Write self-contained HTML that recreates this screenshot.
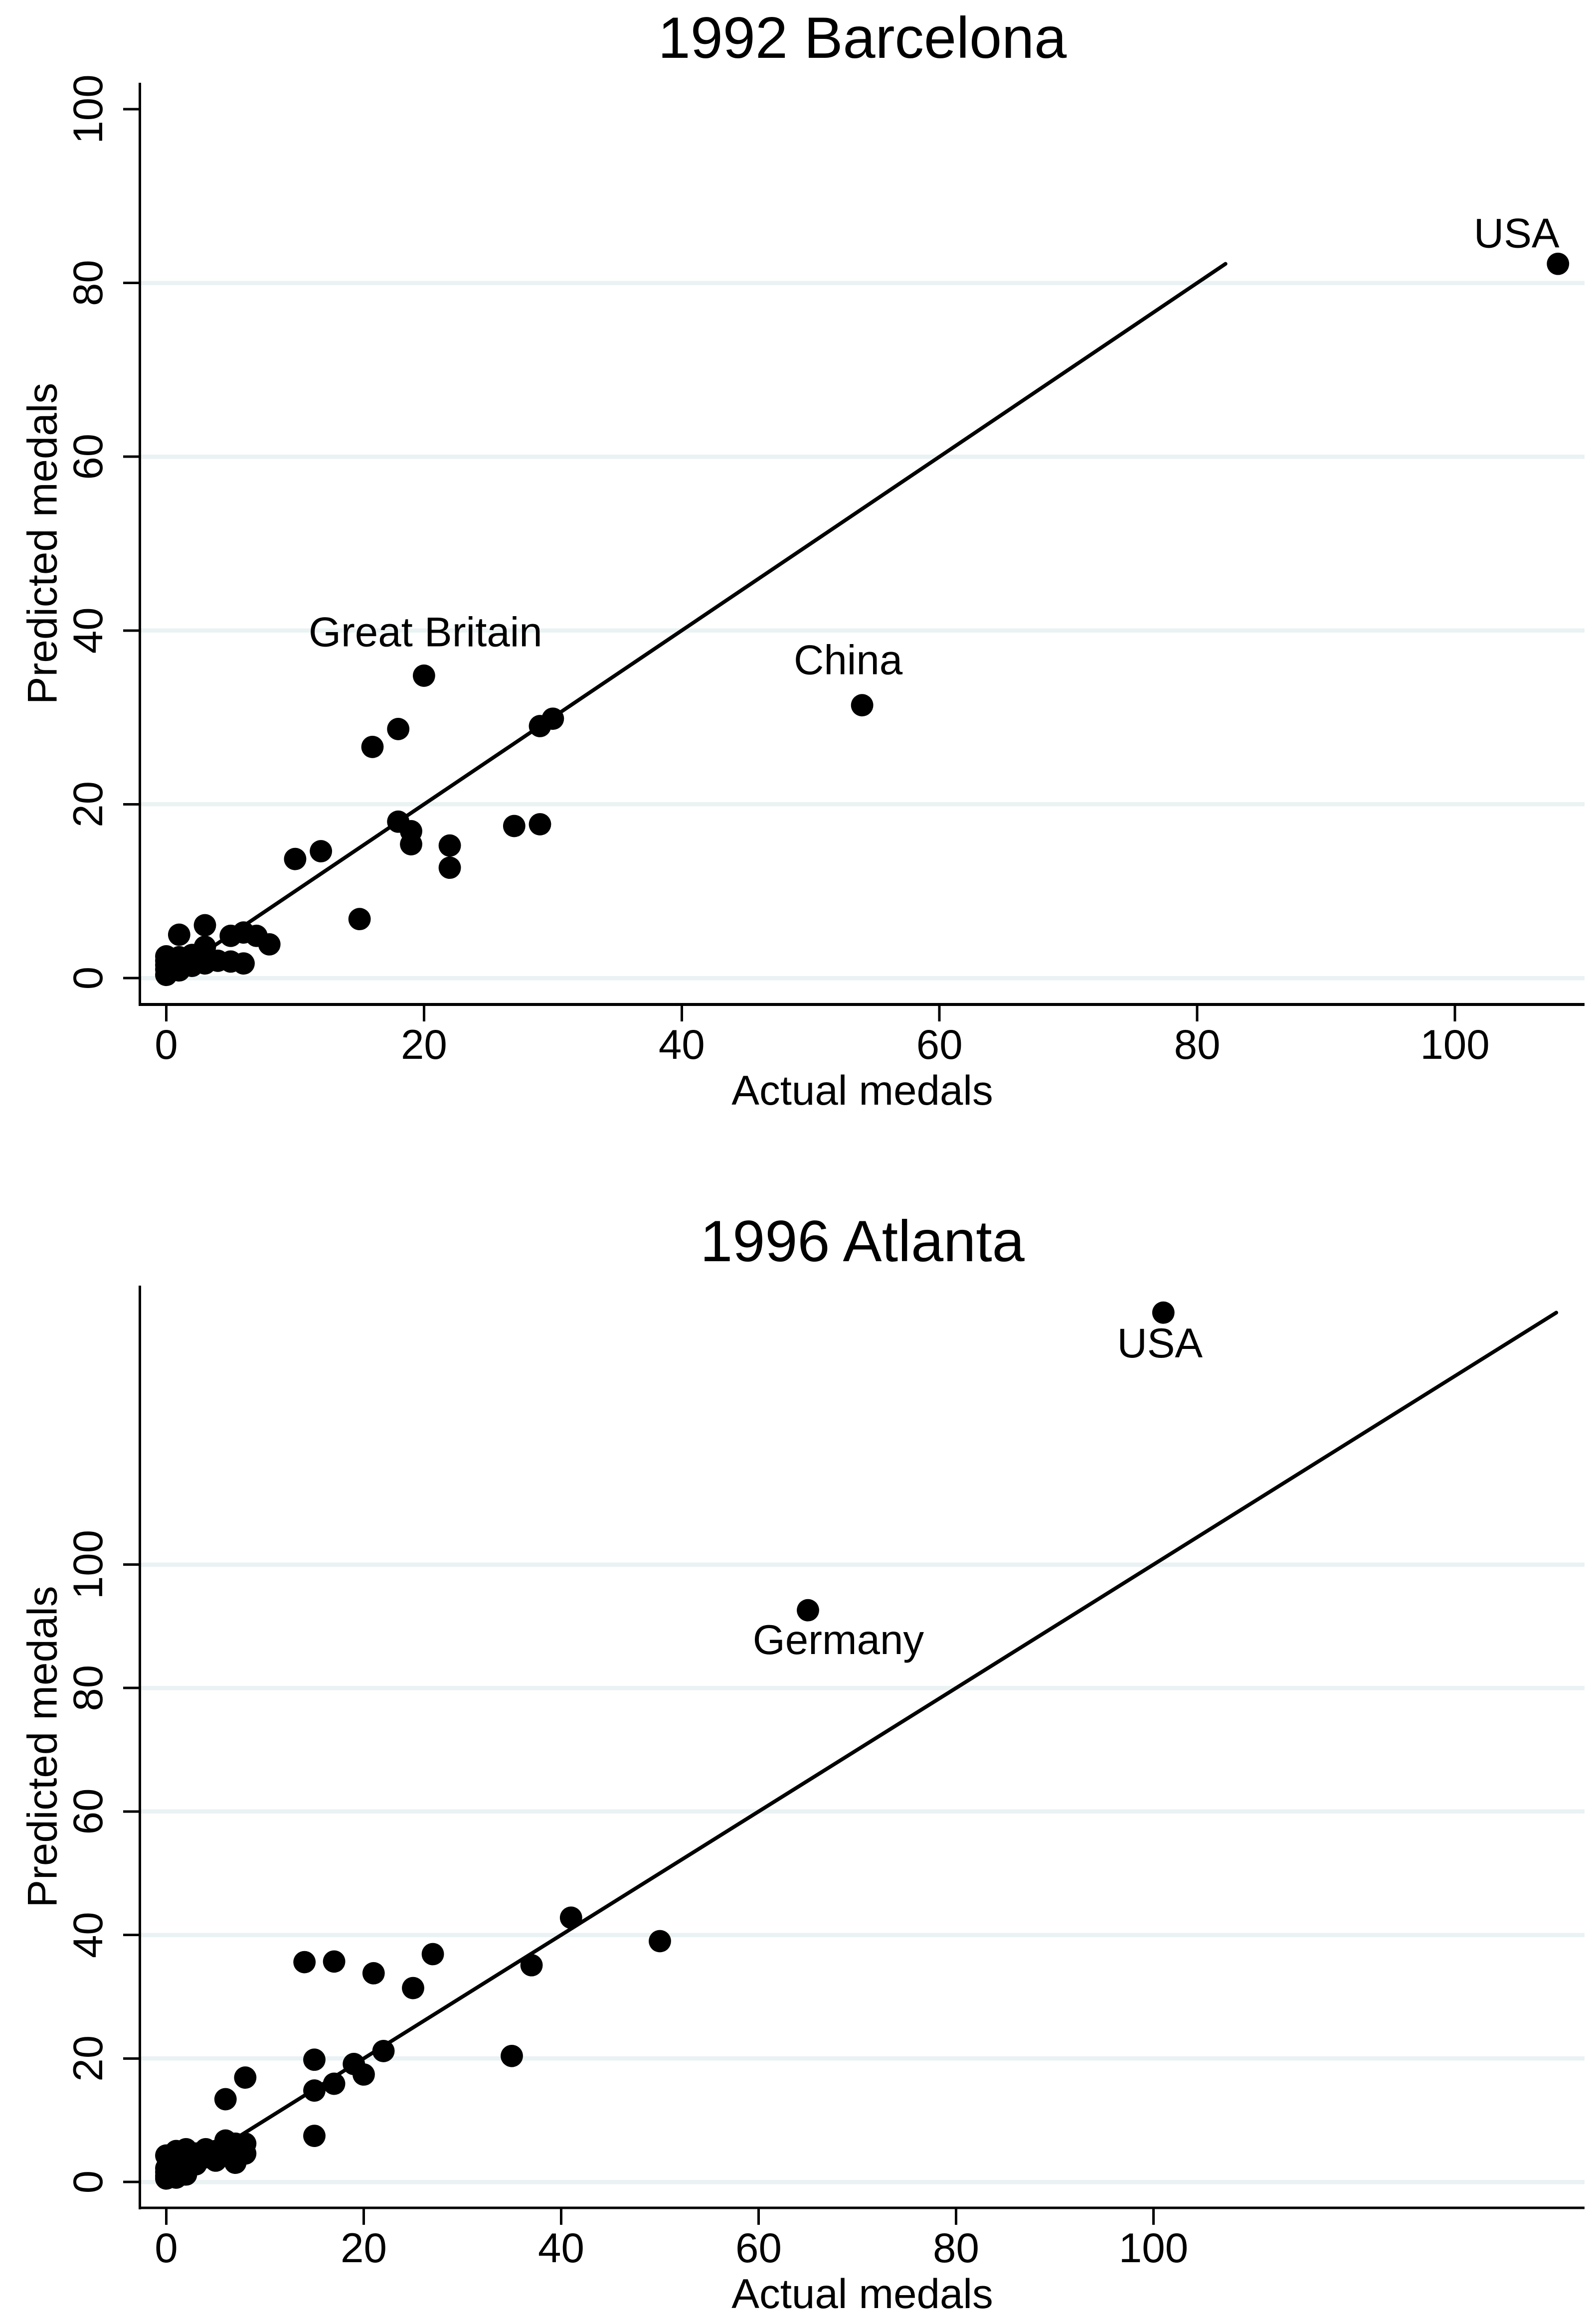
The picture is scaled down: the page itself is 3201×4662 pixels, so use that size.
<!DOCTYPE html>
<html lang="en">
<head>
<meta charset="utf-8">
<title>Actual vs predicted medals</title>
<style>
html,body{margin:0;padding:0;background:#fff;}
svg{display:block;font-family:"Liberation Sans",Arial,sans-serif;fill:#000;}
</style>
</head>
<body>
<svg id="chart" xmlns="http://www.w3.org/2000/svg" width="3201" height="4662" viewBox="0 0 3201 4662">
<rect x="0" y="0" width="3201" height="4662" fill="#ffffff"/>
</svg>
<script>
var xTickLabels = [0, 20, 40, 60, 80, 100];
var yTickLabels = [0, 20, 40, 60, 80, 100];

var actual1992 = [108,54,20,30,29,18,16,29,27,22,22,19,19,18,15,12,10,8,7,6,5,3,1,6,5,4,3,3,3,2,2,2,1,1,1,0,0,0,0,0];
var predicted1992 = [82.2,31.4,34.8,29.85,29,28.66,26.6,17.7,17.5,15.25,12.7,16.9,15.4,18,6.79,14.6,13.7,3.88,4.86,5.24,4.86,6.08,4.99,1.68,1.9,1.99,3.6,2.2,1.68,2.66,2.1,1.4,2.4,1.6,0.88,2.5,2,1.5,1,0.36];
var fitLine1992 = [0.36, 82.2];
var labelNames1992 = ["USA", "China", "Great Britain"];
var labelActual1992 = [108, 54, 20];
var labelPredicted1992 = [82.2, 31.4, 34.8];

var actual1996 = [101,65,50,41,37,35,27,25,22,21,20,19,17,17,15,15,15,14,8,6,8,8,7,7,6,6,5,5,4,4,3,3,2,2,2,2,1,1,1,1,0,0,0,0,0];
var predicted1996 = [140.8,92.6,39,42.8,35.1,20.4,36.9,31.4,21.2,33.8,17.4,19.1,35.7,15.9,19.8,14.8,7.46,35.6,16.9,13.4,6.2,4.6,6.2,3.1,6.7,5,5,3.45,5.3,4,4.6,2.85,5.3,4,2.6,1.2,5,3.6,2.2,0.7,4.28,2.2,1.6,1,0.55];
var fitLine1996 = [0.55, 140.8];
var labelNames1996 = ["USA", "Germany"];
var labelActual1996 = [101, 65];
var labelPredicted1996 = [140.8, 92.6];

var SVG_NS = "http://www.w3.org/2000/svg";
var root = document.getElementById("chart");

function make(tag, parent) {
  var el = document.createElementNS(SVG_NS, tag);
  parent.appendChild(el);
  return el;
}

function segment(parent, x1, y1, x2, y2, width, color, crisp) {
  var el = make("line", parent);
  el.setAttribute("x1", x1);
  el.setAttribute("y1", y1);
  el.setAttribute("x2", x2);
  el.setAttribute("y2", y2);
  el.setAttribute("stroke", color);
  el.setAttribute("stroke-width", width);
  if (crisp) el.setAttribute("shape-rendering", "crispEdges");
  return el;
}

function label(parent, content, x, y, size, rotated) {
  var el = make("text", parent);
  el.textContent = content;
  el.setAttribute("text-anchor", "middle");
  el.setAttribute("font-size", size);
  if (rotated) {
    el.setAttribute("transform", "translate(" + x + "," + y + ") rotate(-90)");
  } else {
    el.setAttribute("x", x);
    el.setAttribute("y", y);
  }
  return el;
}

function drawPanel(p) {
  function xScale(v) { return p.x0 + v * p.xUnit; }
  function yScale(v) { return p.y0 - v * p.yUnit; }

  var g = make("g", root);
  
  

  var title = label(g, p.title, 1729.5, p.titleBaseline, 117, false);
  
  

  yTickLabels.forEach(function (v) {
    if (yScale(v) - p.axisTop > 60) {
      var grid = segment(g, 281, yScale(v), 3178, yScale(v), 8.5, "#eaf2f3", true);
      
      
    }

    var tick = segment(g, 247, yScale(v), 281, yScale(v), 5, "#000", true);
    
    

    var text = label(g, String(v), 205, yScale(v), 83.5, true);
    
    
  });

  xTickLabels.forEach(function (v) {
    var tick = segment(g, xScale(v), p.axisY, xScale(v), p.axisY + 34, 5, "#000", true);
    
    

    var text = label(g, String(v), xScale(v), p.axisY + 109, 83.5, false);
    
    
  });

  var yAxis = segment(g, 280.5, p.axisTop, 280.5, p.axisY + 3, 5, "#000", true);
  
  

  var xAxis = segment(g, 278, p.axisY, 3178, p.axisY, p.axisWidth, "#000", true);
  
  

  var yTitle = label(g, "Predicted medals", 113.5, (p.axisTop + p.axisY) / 2, 83.5, true);
  
  

  var xTitle = label(g, "Actual medals", 1729.5, p.axisY + 201, 83.5, false);
  
  

  var fit = segment(g, xScale(p.fit[0]), yScale(p.fit[0]), xScale(p.fit[1]), yScale(p.fit[1]), 7.5, "#000", false);
  fit.setAttribute("stroke-linecap", "round");
  
  

  p.actual.forEach(function (v, i) {
    var dot = make("circle", g);
    dot.setAttribute("cx", xScale(v));
    dot.setAttribute("cy", yScale(p.predicted[i]));
    dot.setAttribute("r", 22.4);
    dot.setAttribute("fill", "#000");
    
    
  });

  p.labelNames.forEach(function (n, i) {
    var text = label(g, n, xScale(p.labelActual[i]) + p.labelDx[i], yScale(p.labelPredicted[i]) + p.labelDy[i], 83.5, false);
    
    
  });
}

drawPanel({
  name: "panel-1992-barcelona",
  title: "1992 Barcelona",
  titleBaseline: 116,
  axisTop: 166,
  axisY: 2015,
  axisWidth: 6,
  x0: 333.5, xUnit: 25.845,
  y0: 1962, yUnit: 17.43,
  actual: actual1992,
  predicted: predicted1992,
  fit: fitLine1992,
  labelNames: labelNames1992,
  labelActual: labelActual1992,
  labelPredicted: labelPredicted1992,
  labelDx: [-83, -28, 3],
  labelDy: [-33, -62, -59]
});

drawPanel({
  name: "panel-1996-atlanta",
  title: "1996 Atlanta",
  titleBaseline: 2530,
  axisTop: 2579,
  axisY: 4429,
  axisWidth: 5,
  x0: 333.5, xUnit: 19.8,
  y0: 4377, yUnit: 12.385,
  actual: actual1996,
  predicted: predicted1996,
  fit: fitLine1996,
  labelNames: labelNames1996,
  labelActual: labelActual1996,
  labelPredicted: labelPredicted1996,
  labelDx: [-7, 61],
  labelDy: [90, 88]
});
</script>
</body>
</html>
